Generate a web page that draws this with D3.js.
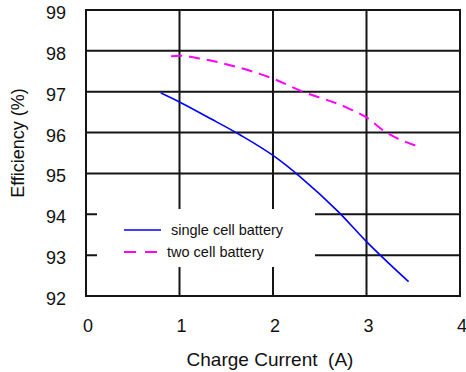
<!DOCTYPE html>
<html>
<head>
<meta charset="utf-8">
<script src="https://cdn.jsdelivr.net/npm/d3@7"></script>
<style>
  body { margin: 0; background: #fff; }
  text { font-family: "Liberation Sans", Arial, sans-serif; fill: #111; }
</style>
</head>
<body>
<svg width="466" height="372"></svg>
<script>
// data
var singleX = [0.80, 1.00, 1.30, 1.65, 2.00, 2.30, 2.70, 3.00, 3.45];
var singleY = [96.97, 96.75, 96.38, 95.94, 95.44, 94.90, 94.06, 93.33, 92.35];
var twoX = [0.91, 1.00, 1.25, 1.54, 2.00, 2.32, 2.75, 3.00, 3.20, 3.54];
var twoY = [97.87, 97.88, 97.80, 97.65, 97.32, 97.00, 96.65, 96.37, 96.02, 95.67];
var xTicks = [0, 1, 2, 3, 4];
var yTicks = [92, 93, 94, 95, 96, 97, 98, 99];
var seriesNames = ["single cell battery", "two cell battery"];

var svg = d3.select("svg"),
	width = +svg.attr("width"),
	height = +svg.attr("height");

var margin = { top: 10, right: 6, bottom: 76, left: 86 };

var x = d3.scaleLinear().domain([0, 4]).range([margin.left, width - margin.right]);
var y = d3.scaleLinear().domain([92, 99]).range([height - margin.bottom, margin.top]);

// grid
var grid = svg.append("g")
	.style("stroke", "#151515")
	.style("stroke-width", 2);

grid.selectAll("line.v")
	.data(xTicks.slice(1, -1))
	.enter().append("line")
	.attr("x1", function (d) { return x(d); })
	.attr("x2", function (d) { return x(d); })
	.attr("y1", y(92))
	.attr("y2", y(99));

grid.selectAll("line.h")
	.data(yTicks.slice(1, -1))
	.enter().append("line")
	.attr("x1", x(0))
	.attr("x2", x(4))
	.attr("y1", function (d) { return y(d); })
	.attr("y2", function (d) { return y(d); });

// legend background knocks out the grid
svg.append("rect")
	.attr("x", x(0) + 11)
	.attr("y", 209)
	.attr("width", 218)
	.attr("height", 58)
	.style("fill", "#fff");

// frame
svg.append("rect")
	.attr("x", x(0))
	.attr("y", y(99))
	.attr("width", x(4) - x(0))
	.attr("height", y(92) - y(99))
	.style("fill", "none")
	.style("stroke", "#151515")
	.style("stroke-width", 2);

// tick labels
svg.append("g").selectAll("text")
	.data(xTicks)
	.enter().append("text")
	.attr("x", function (d) { return x(d) + 2; })
	.attr("y", 332)
	.attr("text-anchor", "middle")
	.style("font-size", "18px")
	.text(function (d) { return d; });

svg.append("g").selectAll("text")
	.data(yTicks)
	.enter().append("text")
	.attr("x", 66)
	.attr("y", function (d) { return y(d) + 9; })
	.attr("text-anchor", "end")
	.style("font-size", "18px")
	.text(function (d) { return d; });

// axis titles
svg.append("text")
	.attr("x", 270)
	.attr("y", 366)
	.attr("text-anchor", "middle")
	.style("font-size", "19px")
	.text("Charge Current\u00a0 (A)");

svg.append("text")
	.attr("transform", "translate(24,143) rotate(-90)")
	.attr("text-anchor", "middle")
	.style("font-size", "18px")
	.text("Efficiency (%)");

// curves
var line = d3.line()
	.x(function (d) { return x(d[0]); })
	.y(function (d) { return y(d[1]); })
	.curve(d3.curveMonotoneX);

svg.append("path")
	.datum(d3.zip(singleX, singleY))
	.attr("d", line)
	.style("fill", "none")
	.style("stroke", "#0000ff")
	.style("stroke-width", 1.6);

svg.append("path")
	.datum(d3.zip(twoX, twoY))
	.attr("d", line)
	.style("fill", "none")
	.style("stroke", "#ff00ff")
	.style("stroke-width", 2)
	.style("stroke-dasharray", "11,7");

// legend
var legend = svg.append("g");
var styles = [
	{ color: "#0000ff", dash: null, w: 1.6 },
	{ color: "#ff00ff", dash: "12,9", w: 2 }
];
seriesNames.forEach(function (name, i) {
	var ly = 230 + i * 22;
	legend.append("line")
		.attr("x1", 124).attr("x2", 161)
		.attr("y1", ly).attr("y2", ly)
		.style("stroke", styles[i].color)
		.style("stroke-width", styles[i].w)
		.style("stroke-dasharray", styles[i].dash);
	legend.append("text")
		.attr("x", i == 0 ? 171 : 167)
		.attr("y", ly + 5)
		.style("font-size", "14.5px")
		.text(name);
});
</script>
</body>
</html>
